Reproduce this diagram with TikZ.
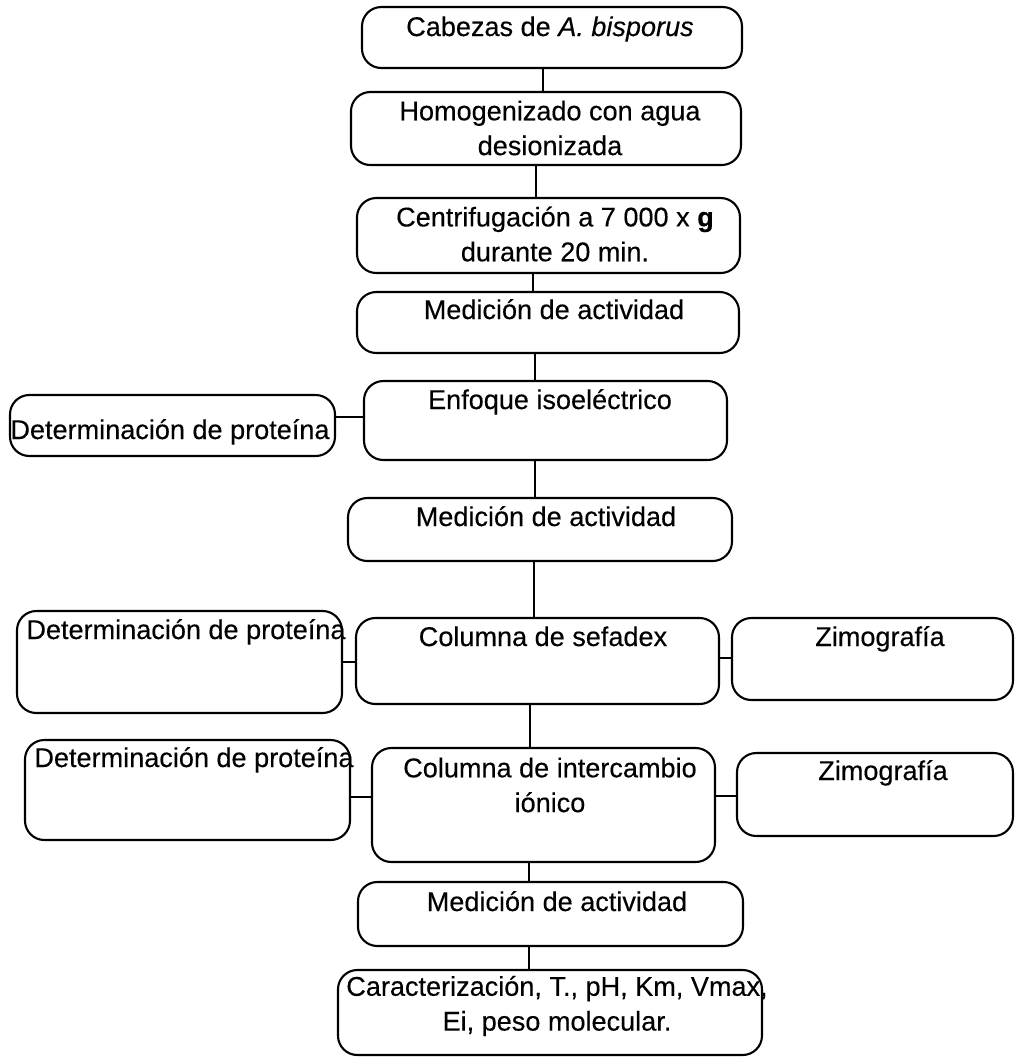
\documentclass[tikz,border=0pt]{standalone}
\usepackage{fontspec}
\setmainfont{Liberation Sans}[FakeBold=0.3,
  UprightFeatures={FakeBold=0.3}]
\usetikzlibrary{fit}
\begin{document}
\begin{tikzpicture}[x=0.01cm,y=-0.01cm,
  box/.style={draw=black, line width=0.6pt, rounded corners=5.5pt, inner sep=0pt},
  txt/.style={inner sep=0pt, align=center, font=\fontsize{7.7pt}{9.9pt}\selectfont},
  conn/.style={draw=black, line width=0.45pt}]
\useasboundingbox (0,0) rectangle (1015,1059);
% main column boxes
\node[box, fit={(362,7) (742,68)}] (b1) {};
\node[box, fit={(351,92) (741,165)}] (b2) {};
\node[box, fit={(357,198) (740,273)}] (b3) {};
\node[box, fit={(357,292) (739,353)}] (b4) {};
\node[box, fit={(364,381) (727,460)}] (b5) {};
\node[box, fit={(348,498) (732,561)}] (b6) {};
\node[box, fit={(356,618) (719,704)}] (b7) {};
\node[box, fit={(372,748) (715,862)}] (b8) {};
\node[box, fit={(358,882) (743,946)}] (b9) {};
\node[box, fit={(338,970) (762,1055)}] (b10) {};
% side boxes
\node[box, fit={(10,395) (335,456)}] (l5) {};
\node[box, fit={(17,611) (342,713)}] (l7) {};
\node[box, fit={(25,740) (350,840)}] (l8) {};
\node[box, fit={(732,618) (1013,700)}] (r7) {};
\node[box, fit={(737,753) (1013,836)}] (r8) {};
% texts
\node[txt, anchor=base] (t1) at (550,36) {Cabezas de \textit{A. bisporus}};
\node[txt] (t2) at (550,128) {Homogenizado con agua\\desionizada};
\node[txt] (t3) at (555,234) {Centrifugación a 7 000 x \textbf{g}\\durante 20 min.};
\node[txt, anchor=base] (t4) at (554,319) {Medición de actividad};
\node[txt, anchor=base] (t5) at (550,409) {Enfoque isoeléctrico};
\node[txt, anchor=base] (t6) at (546,526) {Medición de actividad};
\node[txt, anchor=base] (t7) at (543,646) {Columna de sefadex};
\node[txt] (t8) at (550,785) {Columna de intercambio\\iónico};
\node[txt, anchor=base] (t9) at (557,911) {Medición de actividad};
\node[txt] (t10) at (557,1006) {Caracterización, T., pH, Km, Vmax,\\Ei, peso molecular.};
\node[txt, anchor=base] (tl5) at (170,439) {Determinación de proteína};
\node[txt, anchor=base] (tl7) at (186,639) {Determinación de proteína};
\node[txt, anchor=base] (tl8) at (194,767) {Determinación de proteína};
\node[txt, anchor=base] (tr7) at (880,646) {Zimografía};
\node[txt, anchor=base] (tr8) at (883,780) {Zimografía};
% connectors
\draw[conn] (b1.south -| 543,0) -- (b2.north -| 543,0);
\draw[conn] (b2.south -| 536,0) -- (b3.north -| 536,0);
\draw[conn] (b3.south -| 533,0) -- (b4.north -| 533,0);
\draw[conn] (b4.south -| 535,0) -- (b5.north -| 535,0);
\draw[conn] (b5.south -| 535,0) -- (b6.north -| 535,0);
\draw[conn] (b6.south -| 534,0) -- (b7.north -| 534,0);
\draw[conn] (b7.south -| 530,0) -- (b8.north -| 530,0);
\draw[conn] (b8.south -| 529,0) -- (b9.north -| 529,0);
\draw[conn] (b9.south -| 529,0) -- (b10.north -| 529,0);
\draw[conn] (l5.east |- 0,417) -- (b5.west |- 0,417);
\draw[conn] (l7.east |- 0,662) -- (b7.west |- 0,662);
\draw[conn] (b7.east |- 0,658) -- (r7.west |- 0,658);
\draw[conn] (l8.east |- 0,797) -- (b8.west |- 0,797);
\draw[conn] (b8.east |- 0,796) -- (r8.west |- 0,796);
\end{tikzpicture}
\end{document}
